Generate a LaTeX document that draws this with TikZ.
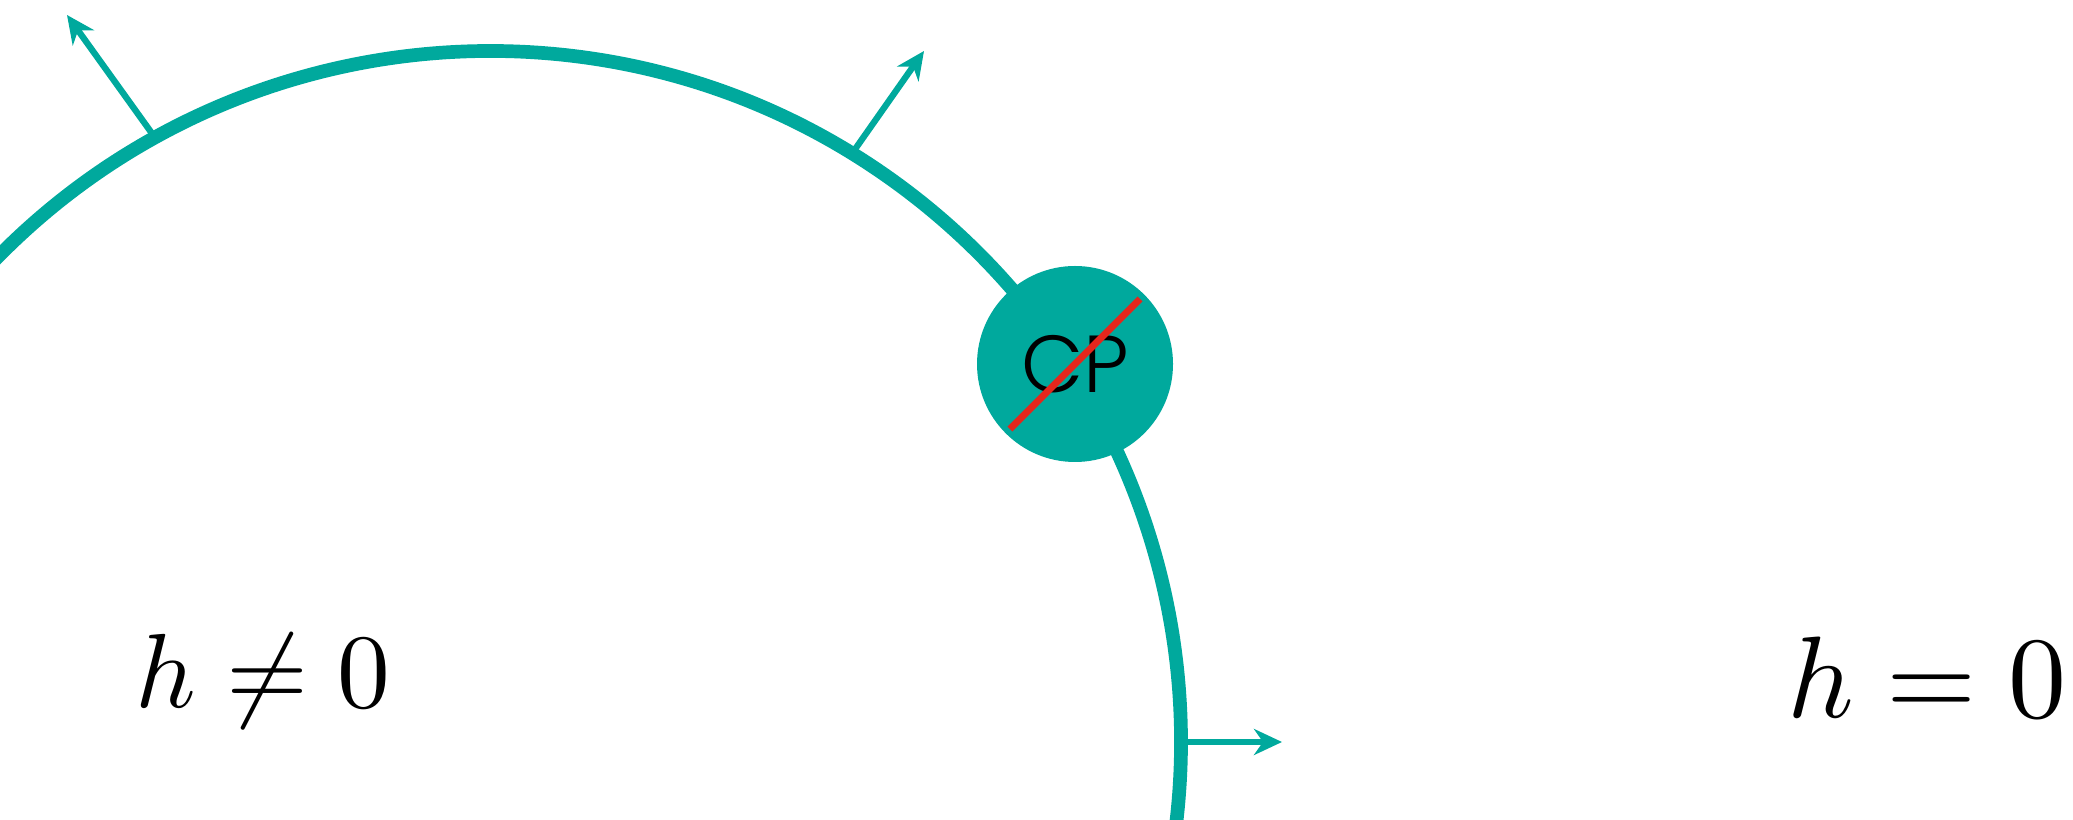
\documentclass[tikz,border=0pt]{standalone}
\usepackage{fontspec}
\usepackage{tikz}
\usetikzlibrary{arrows.meta,calc}
\newfontfamily\cpfont{Poppins}[UprightFont=* Light]
\definecolor{tealring}{HTML}{00A99D}
\definecolor{crossred}{HTML}{E4261C}
\tikzset{
  >=Stealth,
  ring/.style={draw=tealring, line width=3.9pt},
  vec/.style={-{Stealth[length=2.8mm,width=2.6mm,inset=0.9mm]}, draw=tealring, line width=1.8pt},
  lbl/.style={inner sep=0pt, anchor=base}
}
\begin{document}
\begin{tikzpicture}[
        cpnode/.style={circle, fill=tealring, inner sep=0pt, minimum size=1.96cm, font=\cpfont\fontsize{23}{28}\selectfont},
        strike/.style={draw=crossred, line width=2pt}
    ]
    \useasboundingbox (0,0) rectangle (20.73,8.2);
    \clip (0,0) rectangle (20.73,8.2);
    \coordinate (o) at (4.90,0.78);
    % boundary
    \draw[ring] ($(o)+(140:6.91)$) arc[start angle=140, end angle=-10, radius=6.91];
    \coordinate (b1) at ($(o)+(119:6.91)$);
    \coordinate (b2) at ($(o)+(58.4:6.91)$);
    \coordinate (b3) at ($(o)+(0:6.91)$);
    \coordinate (t1) at (0.67,8.05);
    \coordinate (t2) at (9.24,7.69);
    \coordinate (t3) at (12.82,0.78);
    \draw[vec] (b1) -- (t1);
    \draw[vec] (b2) -- (t2);
    \draw[vec] (b3) -- (t3);
    \node[cpnode] (cp) at (10.75,4.56) {CP};
    \draw[strike] ($(cp.center)+(225:0.92)$) -- ($(cp.center)+(45:0.92)$);
    \node[lbl, scale=3.0] (hneq) at (2.63,1.12) {$h \neq 0$};
    \node[lbl, scale=3.3] (heq) at (19.27,1.02) {$h = 0$};
\end{tikzpicture}
\end{document}
